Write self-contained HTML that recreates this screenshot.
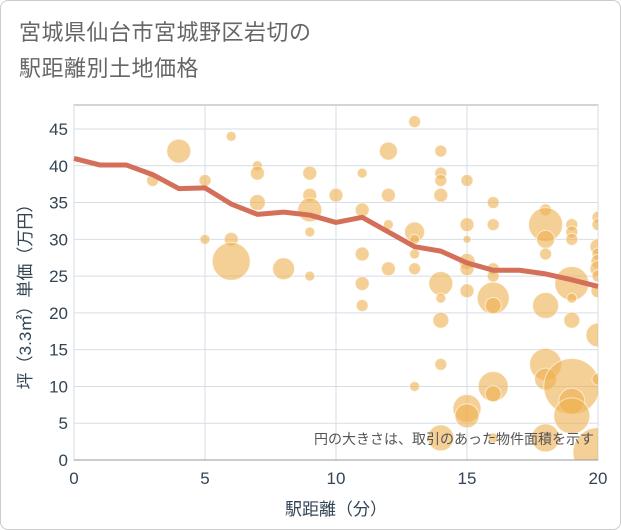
<!DOCTYPE html>
<html><head><meta charset="utf-8"><style>
body{margin:0;background:#fff;font-family:"Liberation Sans","Noto Sans CJK JP",sans-serif}
#wrap{position:relative;width:621px;height:530px;box-sizing:border-box;border:1px solid #ccc;border-radius:8px;overflow:hidden}
#title{position:absolute;left:18px;top:14px;font-size:22px;line-height:36px;color:#666;letter-spacing:0.5px}
svg text{font-family:"Liberation Sans","Noto Sans CJK JP",sans-serif}
</style></head><body>
<div id="wrap">
<div id="title">宮城県仙台市宮城野区岩切の<br>駅距離別土地価格</div>
<svg id="chart" width="621" height="530" style="position:absolute;left:0;top:0"></svg>
</div>
<script>
const xTicks=[0,5,10,15,20];
const yTicks=[0,5,10,15,20,25,30,35,40,45];
const bubbleX=[4,6,3,5,7,7,7,9,9,9,9,9,5,6,6,8,10,11,11,11,11,11,12,12,12,12,13,13,13,13,13,13,14,14,14,14,14,14,14,14,14,15,15,15,15,15,15,15,15,16,16,16,16,16,16,16,16,16,18,18,18,18,18,18,18,18,19,19,19,19,19,19,19,19,19,20,20,20,20,20,20,20,20,20,20,20];
const bubbleY=[42,44,38,38,40,39,35,39,36,34,31,25,30,30,27,26,36,39,34,28,24,21,42,36,32,26,46,31,30,28,26,10,42,39,38,36,24,22,19,13,3,38,32,30,27,26,23,7,6,35,32,26,25,22,21,10,9,3,34,32,30,28,21,13,11,3,32,31,30,24,22,19,10,8,6,33,32,29,28,27,26,25,23,17,11,1];
const bubbleR=[12,5,6,6,5,7,8,7,7,12,5,5,5,7,19,11,7,5,7,7,7,6,9,7,5,7,6,10,5,5,6,5,6,6,6,7,12,5,8,6,13,6,7,4,8,7,7,14,12,6,6,6,6,16,8,15,8,5,6,17,9,6,13,16,11,14,6,6,6,17,5,8,28,13,18,6,6,8,6,7,8,6,7,12,6,25];
const lineX=[0,1,2,3,4,5,6,7,8,9,10,11,12,13,14,15,16,17,18,19,20];
const lineY=[41,40.1,40.1,38.8,36.9,37,34.8,33.4,33.7,33.3,32.3,33,31,29,28.4,26.8,25.8,25.8,25.3,24.5,23.6];
const L=73,R=597,T=104,B=459;
const sx=v=>L+(R-L)*v/20, sy=v=>B-(B-128)*v/45;
const svg=document.getElementById('chart');const NS='http://www.w3.org/2000/svg';
function mk(t,a,p){const e=document.createElementNS(NS,t);for(const k in a)e.setAttribute(k,a[k]);(p||svg).appendChild(e);return e;}
const bg=mk('rect',{x:L,y:T,width:R-L,height:B-T,fill:'#fff',stroke:'#aaa'});


yTicks.forEach(v=>{const g=mk('line',{x1:L,x2:R,y1:sy(v),y2:sy(v),stroke:'#d5dde6'});


const t=mk('text',{x:L-6,y:sy(v)+6,'text-anchor':'end','font-size':17,fill:'#345'});t.textContent=v;

});
xTicks.forEach(v=>{const g=mk('line',{x1:sx(v),x2:sx(v),y1:T,y2:B,stroke:'#d5dde6'});


const t=mk('text',{x:sx(v),y:B+24,'text-anchor':'middle','font-size':17,fill:'#345'});t.textContent=v;

});
const cp=mk('clipPath',{id:'cp'});mk('rect',{x:L,y:T,width:R-L,height:B-T},cp);
const bg2=mk('g',{'clip-path':'url(#cp)'});


bubbleX.forEach((x,i)=>{const c=mk('circle',{cx:sx(x),cy:sy(bubbleY[i]),r:bubbleR[i],fill:'rgba(238,176,80,0.6)',stroke:'rgba(255,255,255,0.6)','stroke-width':1},bg2);

});
const pl=mk('polyline',{points:lineX.map((x,i)=>sx(x)+','+sy(lineY[i])).join(' '),fill:'none',stroke:'#d4705a','stroke-width':5,'stroke-linejoin':'round'});


mk('line',{x1:L,x2:R,y1:B,y2:B,stroke:'#999'});
const n=mk('text',{x:R-4,y:443,'text-anchor':'end','font-size':14,fill:'#555'});n.textContent='円の大きさは、取引のあった物件面積を示す';


const xl=mk('text',{x:(L+R)/2,y:514,'text-anchor':'middle','font-size':17,fill:'#345'});xl.textContent='駅距離（分）';


const yl=mk('text',{x:0,y:0,'text-anchor':'middle','font-size':17,fill:'#345',transform:`translate(30,${(T+B)/2+10}) rotate(-90)`});yl.textContent='坪（3.3㎡）単価（万円）';


</script>
</body></html>
